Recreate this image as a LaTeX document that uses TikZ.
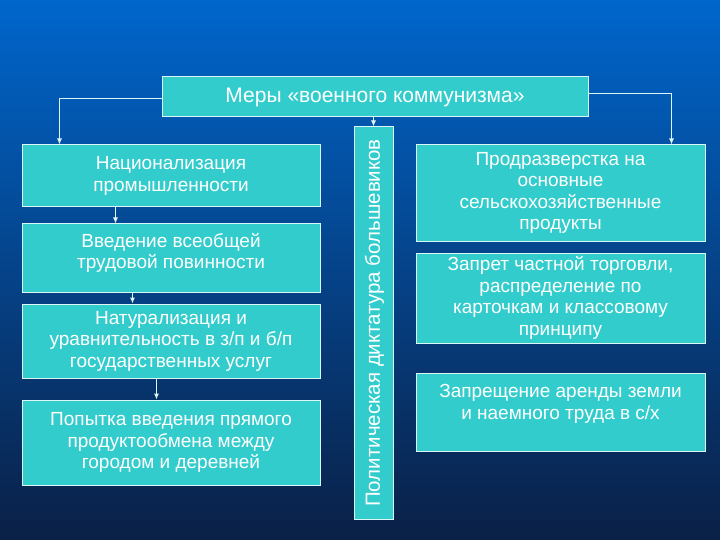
\documentclass[tikz,border=0pt]{standalone}
\usepackage{fontspec}
\setmainfont{Liberation Sans}
\usetikzlibrary{arrows.meta}

\definecolor{slidetop}{RGB}{0,102,204}
\definecolor{slidemid}{RGB}{5,60,140}
\definecolor{slidebot}{RGB}{10,32,70}
\definecolor{boxfill}{RGB}{51,204,204}
\definecolor{boxline}{RGB}{220,245,245}

\tikzset{
  measure/.style={draw=boxline, line width=1pt, fill=boxfill, text=white,
    align=center, inner sep=2pt, font=\fontsize{19}{21.5}\selectfont},
  link/.style={draw=boxline, line width=1pt,
    -{Latex[length=6pt,width=5pt]}}
}

\begin{document}
\begin{tikzpicture}[x=1pt, y=-1pt]
  	% background
  	\shade[top color=slidetop, middle color=slidemid, bottom color=slidebot]
  	  (0,0) rectangle (720,540);
  	\useasboundingbox (0,0) rectangle (720,540);

  	% head
  	\node[measure, minimum width=426pt, minimum height=40pt,
  	  font=\fontsize{21}{24}\selectfont] (mery) at (375,97)
  	  {Меры «военного коммунизма»};

  	% middle column
  	\node[measure, minimum width=39pt, minimum height=392pt] (dikt) at (373.5,323) {};
  	\node[text=white, rotate=90, font=\fontsize{20.5}{24}\selectfont] (dikt-t) at ([xshift=1pt]dikt.center)
  	  {Политическая диктатура большевиков};

  	% left column
  	\node[measure, minimum width=298pt, minimum height=62pt] (nac) at (171,176)
  	  {Национализация\\промышленности};
  	\node[measure, minimum width=298pt, minimum height=68pt,
  	  label={[text=white, align=center, yshift=5pt, font=\fontsize{19}{21.5}\selectfont]center:Введение всеобщей\\трудовой повинности}]
  	  (trud) at (171,258) {};
  	\node[measure, minimum width=298pt, minimum height=74pt] (natur) at (171,341)
  	  {Натурализация и\\уравнительность в з/п и б/п\\государственных услуг};
  	\node[measure, minimum width=298pt, minimum height=85pt] (obmen) at (171,442.5)
  	  {Попытка введения прямого\\продуктообмена между\\городом и деревней};

  	% right column
  	\node[measure, minimum width=289pt, minimum height=96pt] (razv) at (560.5,193)
  	  {Продразверстка на\\основные\\сельскохозяйственные\\продукты};
  	\node[measure, minimum width=289pt, minimum height=90pt] (torg) at (560.5,298)
  	  {Запрет частной торговли,\\распределение по\\карточкам и классовому\\принципу};
  	\node[measure, minimum width=289pt, minimum height=78pt,
  	  label={[text=white, align=center, yshift=8pt, font=\fontsize{19}{21.5}\selectfont]center:Запрещение аренды земли\\и наемного труда в с/х}]
  	  (arenda) at (560.5,412) {};

  	% connectors
  	\draw[link] ([yshift=-2pt]mery.west) -| ([xshift=38pt]nac.north west);
  	\draw[link] ([yshift=3pt]mery.east) -| ([xshift=256pt]razv.north west);
  	\draw[link] (mery.south -| dikt.north) -- (dikt.north);
  	\draw[link] ([xshift=94pt]nac.south west) -- ([xshift=94pt]trud.north west);
  	\draw[link] ([xshift=111pt]trud.south west) -- ([xshift=111pt]natur.north west);
  	\draw[link] ([xshift=135pt]natur.south west) -- ([xshift=135pt]obmen.north west);
\end{tikzpicture}
\end{document}
